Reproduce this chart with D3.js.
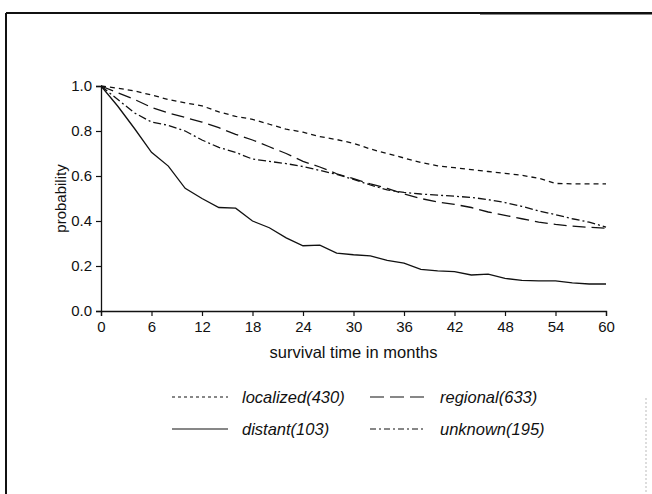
<!DOCTYPE html>
<html>
<head>
<meta charset="utf-8">
<script src="https://cdn.jsdelivr.net/npm/d3@7/dist/d3.min.js"></script>
<style>
  html, body { margin: 0; padding: 0; background: #fff; }
  svg { display: block; font-family: "Liberation Sans", Arial, Helvetica, sans-serif; }
</style>
</head>
<body>
<div id="chart"></div>
<script>
// survival estimates, every 2 months
var months = [0, 2, 4, 6, 8, 10, 12, 14, 16, 18, 20, 22, 24, 26, 28, 30,
  32, 34, 36, 38, 40, 42, 44, 46, 48, 50, 52, 54, 56, 58, 60];
var localized = [1.0, 0.99, 0.978, 0.96, 0.94, 0.925, 0.912, 0.885, 0.865, 0.852, 0.83,
  0.808, 0.795, 0.775, 0.762, 0.745, 0.72, 0.70, 0.68, 0.66, 0.645,
  0.637, 0.628, 0.62, 0.612, 0.603, 0.59, 0.567, 0.565, 0.565, 0.565];
var regional = [1.0, 0.97, 0.94, 0.905, 0.88, 0.86, 0.84, 0.815, 0.785, 0.76, 0.73,
  0.70, 0.665, 0.64, 0.61, 0.588, 0.565, 0.545, 0.52, 0.50, 0.484,
  0.474, 0.46, 0.44, 0.425, 0.41, 0.395, 0.385, 0.377, 0.372, 0.368];
var distant = [1.0, 0.91, 0.81, 0.705, 0.644, 0.545, 0.50, 0.46, 0.457, 0.40, 0.37,
  0.325, 0.29, 0.293, 0.257, 0.25, 0.245, 0.225, 0.213, 0.185, 0.178,
  0.175, 0.16, 0.164, 0.145, 0.136, 0.134, 0.134, 0.125, 0.12, 0.12];
var unknown = [1.0, 0.94, 0.88, 0.84, 0.825, 0.80, 0.76, 0.727, 0.705, 0.675, 0.665,
  0.655, 0.642, 0.625, 0.607, 0.585, 0.56, 0.538, 0.527, 0.52, 0.515,
  0.51, 0.505, 0.495, 0.482, 0.465, 0.445, 0.428, 0.41, 0.395, 0.373];

var seriesNames = ['localized(430)', 'regional(633)', 'distant(103)', 'unknown(195)'];
var xTicks = [0, 6, 12, 18, 24, 30, 36, 42, 48, 54, 60];
var yTicks = [0.0, 0.2, 0.4, 0.6, 0.8, 1.0];

var W = 652, H = 494;
var margin = { top: 86, left: 101, right: 46, bottom: 183 };
var width = W - margin.left - margin.right;
var height = H - margin.top - margin.bottom;

var svg = d3.select('#chart').append('svg')
  .attr('width', W)
  .attr('height', H);

// scanned page frame
svg.append('line').attr('x1', 6).attr('x2', W).attr('y1', 13).attr('y2', 13)
  .style('stroke', '#111').style('stroke-width', 2);
svg.append('line').attr('x1', 480).attr('x2', W).attr('y1', 13.5).attr('y2', 13.5)
  .style('stroke', '#111').style('stroke-width', 2);
svg.append('line').attr('x1', 6).attr('x2', 6).attr('y1', 13).attr('y2', H)
  .style('stroke', '#111').style('stroke-width', 2);
svg.append('line').attr('x1', 646).attr('x2', 646).attr('y1', 398).attr('y2', H)
  .style('stroke', '#bbb').style('stroke-width', 1).style('stroke-dasharray', '2,2');

var g = svg.append('g')
  .attr('transform', 'translate(' + margin.left + ',' + margin.top + ')');

var x = d3.scaleLinear().domain([0, 60]).range([0, width]);
var y = d3.scaleLinear().domain([0, 1]).range([height, 0]);

var xAxis = g.append('g')
  .attr('transform', 'translate(0,' + height + ')')
  .call(d3.axisBottom(x).tickValues(xTicks).tickSize(5).tickPadding(5));
var yAxis = g.append('g')
  .call(d3.axisLeft(y).tickValues(yTicks).tickFormat(d3.format('.1f')).tickSize(5).tickPadding(4));

[xAxis, yAxis].forEach(function (a) {
  a.select('.domain').style('stroke', '#111').style('stroke-width', 1.3);
  a.selectAll('.tick line').style('stroke', '#111').style('stroke-width', 1.2);
  a.selectAll('.tick text').style('font-size', '15px').style('fill', '#111')
    .style('font-family', '"Liberation Sans", Arial, sans-serif');
});

g.append('text')
  .attr('x', width / 2)
  .attr('y', height + 47)
  .attr('text-anchor', 'middle')
  .style('font-size', '16.5px')
  .style('fill', '#111')
  .text('survival time in months');

g.append('text')
  .attr('transform', 'translate(' + (-35) + ',' + (height / 2) + ') rotate(-90)')
  .attr('text-anchor', 'middle')
  .style('font-size', '15px')
  .style('fill', '#111')
  .text('probability');

var dashes = ['5,4', '13,6', null, '8,3,2,3'];
var legendDashes = ['3,3', '14,6', null, '6,3,2,3'];
var values = [localized, regional, distant, unknown];

var line = d3.line()
  .x(function (d) { return x(d[0]); })
  .y(function (d) { return y(d[1]); })
  .curve(d3.curveLinear);

values.forEach(function (v, i) {
  g.append('path')
    .datum(months.map(function (m, j) { return [m, v[j]]; }))
    .attr('d', line)
    .style('fill', 'none')
    .style('stroke', '#111')
    .style('stroke-width', 1.3)
    .style('stroke-dasharray', dashes[i]);
});

// legend, two columns
var legend = svg.append('g');
var legX = [172, 370], legY = [397, 429];
seriesNames.forEach(function (name, i) {
  var cx = legX[i % 2], cy = legY[Math.floor(i / 2)];
  legend.append('line')
    .attr('x1', cx).attr('x2', cx + 56)
    .attr('y1', cy).attr('y2', cy)
    .style('stroke', '#111')
    .style('stroke-width', 1.2)
    .style('stroke-dasharray', legendDashes[i]);
  legend.append('text')
    .attr('x', cx + 70)
    .attr('y', cy + 6)
    .style('font-size', '16.5px')
    .style('font-style', 'italic')
    .style('fill', '#111')
    .text(name);
});
</script>
</body>
</html>
